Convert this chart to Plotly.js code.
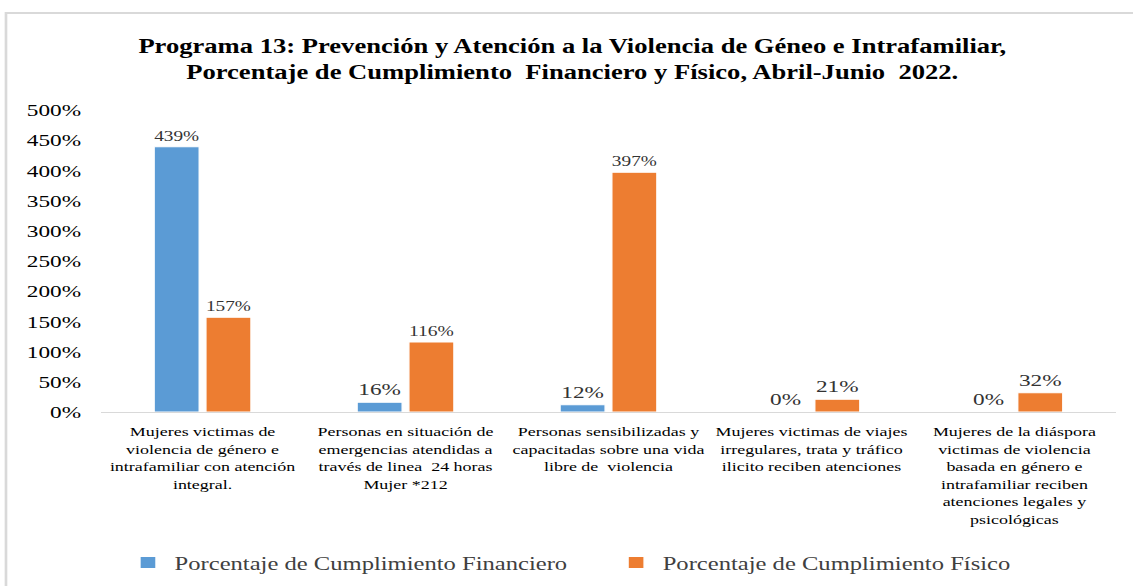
<!DOCTYPE html>
<html>
<head>
<meta charset="utf-8">
<script src="https://cdn.plot.ly/plotly-3.0.1.min.js"></script>
<style>
  body { margin: 0; background: #fff; overflow: hidden; }
  /* the source image is stretched sideways, so the chart is laid out narrower and widened */
  #chart { width: 852px; height: 586px; transform: scaleX(1.33); transform-origin: 0 0; }
</style>
</head>
<body>
<div id="chart"></div>
<script>
// categories (line breaks as in the original chart)
const categorias = [
    'Mujeres victimas de<br>violencia de género e<br>intrafamiliar con atención<br>integral.',
    'Personas en situación de<br>emergencias atendidas a<br>través de linea  24 horas<br>Mujer *212',
    'Personas sensibilizadas y<br>capacitadas sobre una vida<br>libre de  violencia',
    'Mujeres victimas de viajes<br>irregulares, trata y tráfico<br>ilicito reciben atenciones',
    'Mujeres de la diáspora<br>victimas de violencia<br>basada en género e<br>intrafamiliar reciben<br>atenciones legales y<br>psicológicas'
];

const financiero = [4.39, 0.16, 0.12, 0, 0];
const fisico = [1.57, 1.16, 3.97, 0.21, 0.32];

const yTicks = [0, 0.5, 1, 1.5, 2, 2.5, 3, 3.5, 4, 4.5, 5];

const serif = 'Liberation Serif, Times New Roman, serif';

// bars
const trace1 = {
    x: categorias,
    y: financiero,
    type: 'bar',
    name: 'Porcentaje de Cumplimiento Financiero',
    marker: { color: '#5b9bd5', line: { color: '#ffffff', width: 1 } },
    texttemplate: '%{y:.0%}',
    textposition: 'outside',
    cliponaxis: false,
    textfont: { family: serif, size: 17.5, color: '#333333' },
    hoverinfo: 'skip'
};

const trace2 = {
    x: categorias,
    y: fisico,
    type: 'bar',
    name: 'Porcentaje de Cumplimiento Físico',
    marker: { color: '#ed7d31', line: { color: '#ffffff', width: 1 } },
    texttemplate: '%{y:.0%}',
    textposition: 'outside',
    cliponaxis: false,
    textfont: { family: serif, size: 17.5, color: '#333333' },
    hoverinfo: 'skip'
};

// plot area in layout px: x 76..839, y 110..412
const plotW = 763, plotH = 302;

const layout = {
    width: 852,
    height: 586,
    margin: { l: 76, r: 13, t: 110, b: 174, autoexpand: false },
    paper_bgcolor: '#ffffff',
    plot_bgcolor: '#ffffff',
    font: { family: serif, color: '#000000' },
    title: {
        text: '<b>Programa 13: Prevención y Atención a la Violencia de Géneo e Intrafamiliar,<br>Porcentaje de Cumplimiento  Financiero y Físico, Abril-Junio  2022.</b>',
        font: { family: serif, size: 20, color: '#000000' },
        x: 0.505,
        xanchor: 'center',
        y: 0.91,
        yref: 'container',
        yanchor: 'middle'
    },
    barmode: 'group',
    bargap: 0.49,
    bargroupgap: 0.13,
    showlegend: true,
    legend: {
        orientation: 'h',
        x: 0.02,
        xanchor: 'left',
        y: -0.5,
        yanchor: 'middle',
        font: { family: serif, size: 18.5, color: '#404040' },
        itemwidth: 30,
        entrywidth: 322,
        entrywidthmode: 'pixels'
    },
    xaxis: {
        type: 'category',
        automargin: false,
        showline: true,
        linecolor: '#d9d9d9',
        linewidth: 1,
        ticks: '',
        ticklabelstandoff: 7,
        showgrid: false,
        tickangle: 0,
        tickfont: { family: serif, size: 13.5, color: '#000000' },
        fixedrange: true
    },
    yaxis: {
        range: [0, 5],
        automargin: false,
        tickvals: yTicks,
        tickformat: '.0%',
        showgrid: false,
        zeroline: false,
        showline: false,
        ticks: '',
        ticklabelstandoff: 14,
        tickfont: { family: serif, size: 17.5, color: '#000000' },
        fixedrange: true
    },
    shapes: [{
        type: 'rect',
        xref: 'paper',
        yref: 'paper',
        x0: (4.5 - 76) / plotW,
        x1: (860 - 76) / plotW,
        y0: (412 - 600) / plotH,
        y1: (412 - 13) / plotH,
        line: { color: '#d9d9d9', width: 2 },
        layer: 'below'
    }]
};

Plotly.newPlot('chart', [trace1, trace2], layout, { displayModeBar: false, staticPlot: true });
</script>
</body>
</html>
